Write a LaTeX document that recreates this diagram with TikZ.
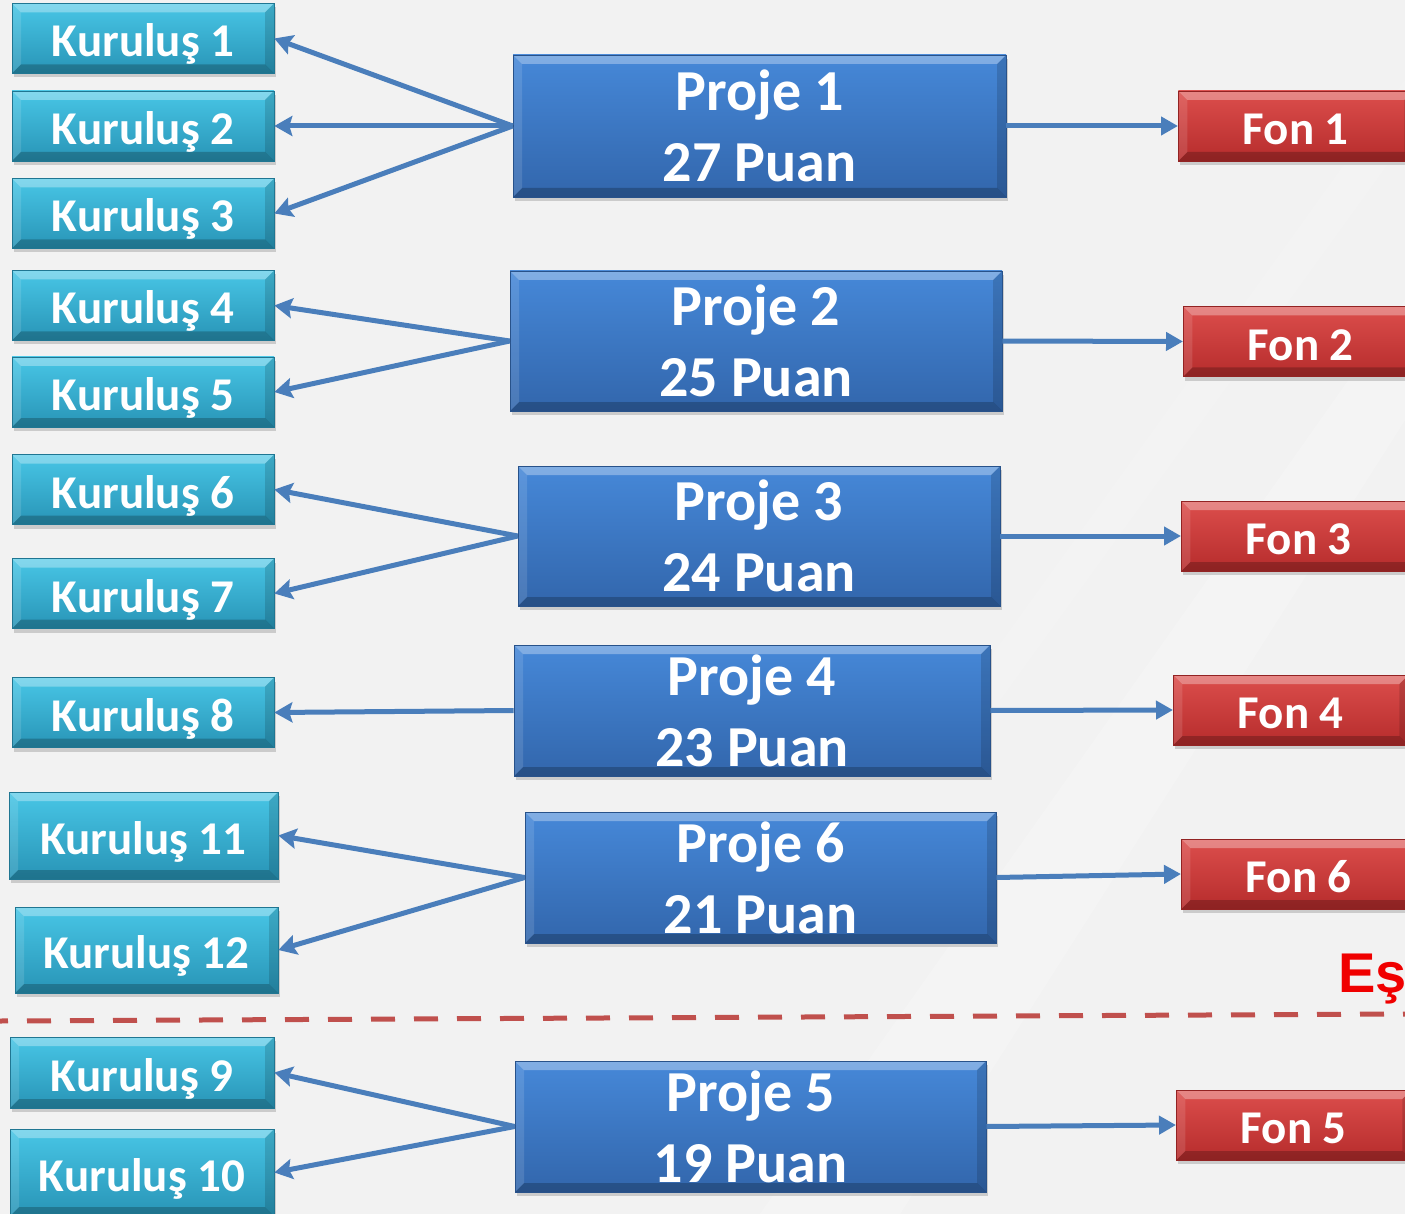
\documentclass[tikz,border=0pt]{standalone}
\usepackage{fontspec}
\setmainfont{Carlito}
\newfontfamily\arialfont{Liberation Sans}
\usetikzlibrary{arrows.meta,shadows}
\definecolor{bgc}{RGB}{242,242,242}
\definecolor{arrc}{RGB}{74,126,187}
\definecolor{dashc}{RGB}{192,80,77}
\definecolor{kTop}{RGB}{72,198,230}
\definecolor{kBot}{RGB}{40,148,182}
\definecolor{pTop}{RGB}{70,136,216}
\definecolor{pBot}{RGB}{50,102,172}
\definecolor{fTop}{RGB}{220,78,76}
\definecolor{fBot}{RGB}{182,44,44}
\tikzset{
  bev/.style={path picture={
    \path[fill=white,fill opacity=0.32] (path picture bounding box.north west) -- (path picture bounding box.north east) -- ([xshift=-9pt,yshift=-9pt]path picture bounding box.north east) -- ([xshift=9pt,yshift=-9pt]path picture bounding box.north west) -- cycle;
    \path[fill=black,fill opacity=0.22] (path picture bounding box.south west) -- (path picture bounding box.south east) -- ([xshift=-9pt,yshift=9pt]path picture bounding box.south east) -- ([xshift=9pt,yshift=9pt]path picture bounding box.south west) -- cycle;
    \path[fill=white,fill opacity=0.12] (path picture bounding box.north west) -- (path picture bounding box.south west) -- ([xshift=9pt,yshift=9pt]path picture bounding box.south west) -- ([xshift=9pt,yshift=-9pt]path picture bounding box.north west) -- cycle;
    \path[fill=black,fill opacity=0.14] (path picture bounding box.north east) -- (path picture bounding box.south east) -- ([xshift=-9pt,yshift=9pt]path picture bounding box.south east) -- ([xshift=-9pt,yshift=-9pt]path picture bounding box.north east) -- cycle;
  }},
  basebox/.style={bev, text=white, inner sep=0pt, font=\bfseries\fontsize{47}{50}\selectfont,
    text height=37pt, text depth=0pt,
    drop shadow={shadow xshift=2pt, shadow yshift=-4pt, opacity=0.16, fill=black}},
  kbox/.style={basebox, top color=kTop, bottom color=kBot, draw=kBot!80!black, line width=0.6pt,
    minimum width=262pt, minimum height=70pt},
  pbox/.style={bev, text=white, inner sep=0pt,
    drop shadow={shadow xshift=2pt, shadow yshift=-4pt, opacity=0.16, fill=black},
    top color=pTop, bottom color=pBot, draw=pBot!80!black, line width=0.6pt,
    minimum height=131pt, align=center, font=\bfseries\fontsize{58}{71}\selectfont},
  fbox/.style={basebox, top color=fTop, bottom color=fBot, draw=fBot!80!black, line width=0.6pt,
    minimum width=235pt, minimum height=70pt, anchor=west},
  larr/.style={draw=arrc, line width=5pt, -{Stealth[length=18pt,width=20pt,inset=3pt]}},
  rarr/.style={draw=arrc, line width=5pt, -{Triangle[length=17pt,width=18pt]}},
}
\begin{document}
\begin{tikzpicture}[x=1pt,y=-1pt]
\useasboundingbox (0,0) rectangle (1405,1214);
\clip (0,0) rectangle (1405,1214);
\fill[bgc] (0,0) rectangle (1405,1214);
\fill[white,opacity=0.22] (1405,300) -- (1405,420) -- (900,1214) -- (760,1214) -- cycle;
\fill[white,opacity=0.15] (1405,80) -- (1405,140) -- (1000,700) -- (960,700) -- cycle;

% Kurulus boxes
\node[kbox] (k1) at (143,38.5) {Kuruluş 1};
\node[kbox] (k2) at (143,126) {Kuruluş 2};
\node[kbox] (k3) at (143,213.5) {Kuruluş 3};
\node[kbox] (k4) at (143,305.5) {Kuruluş 4};
\node[kbox] (k5) at (143,392) {Kuruluş 5};
\node[kbox] (k6) at (143,489.5) {Kuruluş 6};
\node[kbox] (k7) at (143,593.5) {Kuruluş 7};
\node[kbox] (k8) at (143,712.5) {Kuruluş 8};
\node[kbox, minimum width=269pt, minimum height=87pt] (k11) at (143.5,835.5) {Kuruluş 11};
\node[kbox, minimum width=263pt, minimum height=86pt] (k12) at (146.5,950) {Kuruluş 12};
\node[kbox, minimum width=264pt, minimum height=71pt] (k9) at (142,1072.5) {Kuruluş 9};
\node[kbox, minimum width=264pt, minimum height=87pt] (k10) at (142,1172.5) {Kuruluş 10};

% Proje boxes
\node[pbox, minimum width=493pt, minimum height=142pt] (p1) at (759.5,126) {Proje 1\\27 Puan};
\node[pbox, minimum width=492pt, minimum height=140pt] (p2) at (756,341) {Proje 2\\25 Puan};
\node[pbox, minimum width=482pt, minimum height=140pt] (p3) at (759,536) {Proje 3\\24 Puan};
\node[pbox, minimum width=476pt] (p4) at (752,710.5) {Proje 4\\23 Puan};
\node[pbox, minimum width=471pt] (p6) at (760.5,877.5) {Proje 6\\21 Puan};
\node[pbox, minimum width=471pt] (p5) at (750.5,1126.5) {Proje 5\\19 Puan};

% Fon boxes
\node[fbox] (f1) at (1178,126) {Fon 1};
\node[fbox] (f2) at (1183,341.5) {Fon 2};
\node[fbox] (f3) at (1181,536) {Fon 3};
\node[fbox] (f4) at (1173,710) {Fon 4};
\node[fbox] (f6) at (1181,874) {Fon 6};
\node[fbox] (f5) at (1176,1125) {Fon 5};

% arrows to Kurulus
\draw[larr] (p1.west) -- (k1.east);
\draw[larr] (p1.west) -- (k2.east);
\draw[larr] (p1.west) -- (k3.east);
\draw[larr] (p2.west) -- (k4.east);
\draw[larr] (p2.west) -- (k5.east);
\draw[larr] (p3.west) -- (k6.east);
\draw[larr] (p3.west) -- (k7.east);
\draw[larr] (p4.west) -- (k8.east);
\draw[larr] (p6.west) -- (k11.east);
\draw[larr] (p6.west) -- (k12.east);
\draw[larr] (p5.west) -- (k9.east);
\draw[larr] (p5.west) -- (k10.east);

% arrows to Fon
\draw[rarr] (p1.east) -- (f1.west);
\draw[rarr] (p2.east) -- (f2.west);
\draw[rarr] (p3.east) -- (f3.west);
\draw[rarr] (p4.east) -- (f4.west);
\draw[rarr] (p6.east) -- (f6.west);
\draw[rarr] (p5.east) -- (f5.west);

% threshold line
\coordinate (dl) at (0,1021);
\coordinate (dr) at (1405,1014);
\draw[dashc, line width=5pt, dash pattern=on 24pt off 19pt, dash phase=16pt] (dl) -- (dr);
\node[anchor=base west, inner sep=0pt, text={rgb,255:red,240;green,0;blue,0},
  font=\arialfont\bfseries\fontsize{56}{60}\selectfont] (es) at (1338,992) {Eş};
\end{tikzpicture}
\end{document}
